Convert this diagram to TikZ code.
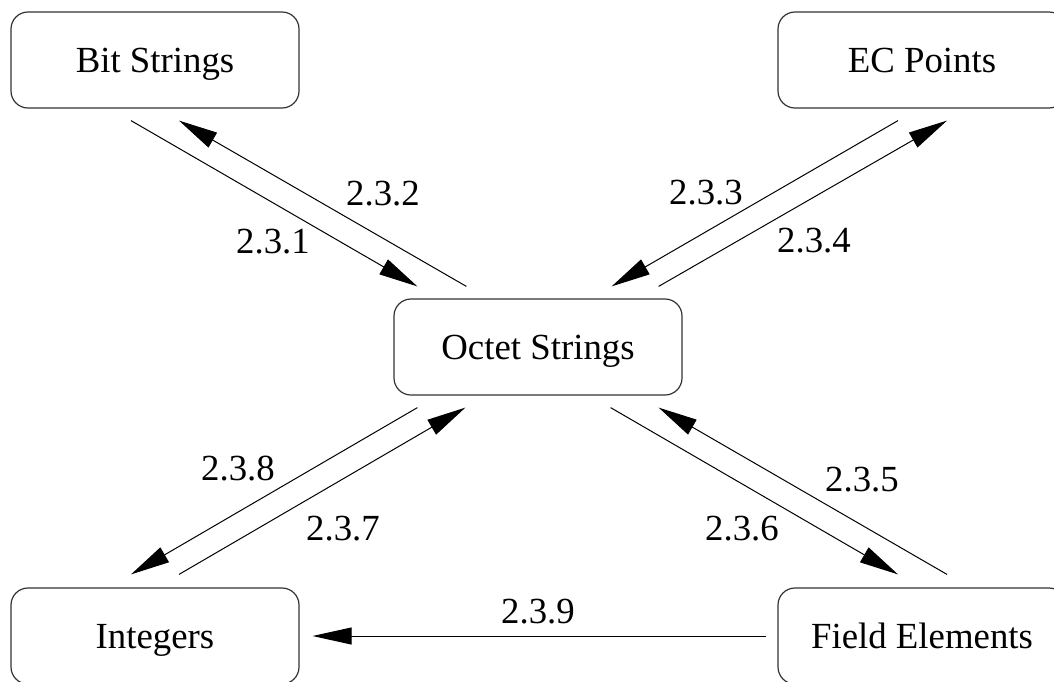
\documentclass[tikz,border=0pt]{standalone}
\usepackage{fontspec}
\setmainfont{Liberation Serif}
\usetikzlibrary{arrows.meta,calc}
\begin{document}
\begin{tikzpicture}[x=0.5pt,y=-0.5pt,>={Triangle[length=19.5pt,width=8.5pt]},
	every node/.style={font=\fontsize{18.4}{22}\selectfont},
	box/.style={draw=black!80,line width=0.6pt,rounded corners=8.5pt,
		minimum width=144pt,minimum height=48pt,inner sep=0pt,
		text height=17.5pt,text depth=4.6pt},
	conn/.style={line width=0.5pt}]
	\path[use as bounding box,clip] (0,0) rectangle (1054,681);
	% boxes
	\node[box] (bits) at (155,60) {Bit Strings};
	\node[box] (ec) at (922,60) {EC Points};
	\node[box] (octet) at (538,347) {Octet Strings};
	\node[box] (ints) at (155,636) {Integers};
	\node[box] (field) at (922,636) {Field Elements};
	% upper left
	\draw[conn,->] ($(bits.south)+(-24,12)$) -- ($(octet.north west)+(24,-12)$);
	\draw[conn,->] ($(octet.north west)+(73,-12)$) -- ($(bits.south)+(24,12)$);
	% upper right
	\draw[conn,->] ($(ec.south)+(-24,12)$) -- ($(octet.north east)+(-71,-12)$);
	\draw[conn,->] ($(octet.north east)+(-24,-12)$) -- ($(ec.south)+(25,12)$);
	% lower right
	\draw[conn,->] ($(field.north)+(25,-13)$) -- ($(octet.south east)+(-24,12)$);
	\draw[conn,->] ($(octet.south east)+(-72,12)$) -- ($(field.north)+(-24,-13)$);
	% lower left
	\draw[conn,->] ($(ints.north)+(24,-13)$) -- ($(octet.south west)+(72,12)$);
	\draw[conn,->] ($(octet.south west)+(24,12)$) -- ($(ints.north)+(-24,-13)$);
	% bottom
	\draw[conn,->] ($(field.west)+(-11,0)$) -- ($(ints.east)+(13,0)$);
	% labels
	\node (l1) at (273,242) {2.3.1};
	\node (l2) at (383,194) {2.3.2};
	\node (l3) at (706,193) {2.3.3};
	\node (l4) at (814,241) {2.3.4};
	\node (l5) at (862,480) {2.3.5};
	\node (l6) at (742,529) {2.3.6};
	\node (l7) at (343,529) {2.3.7};
	\node (l8) at (238,469) {2.3.8};
	\node (l9) at (538,612) {2.3.9};
\end{tikzpicture}
\end{document}
